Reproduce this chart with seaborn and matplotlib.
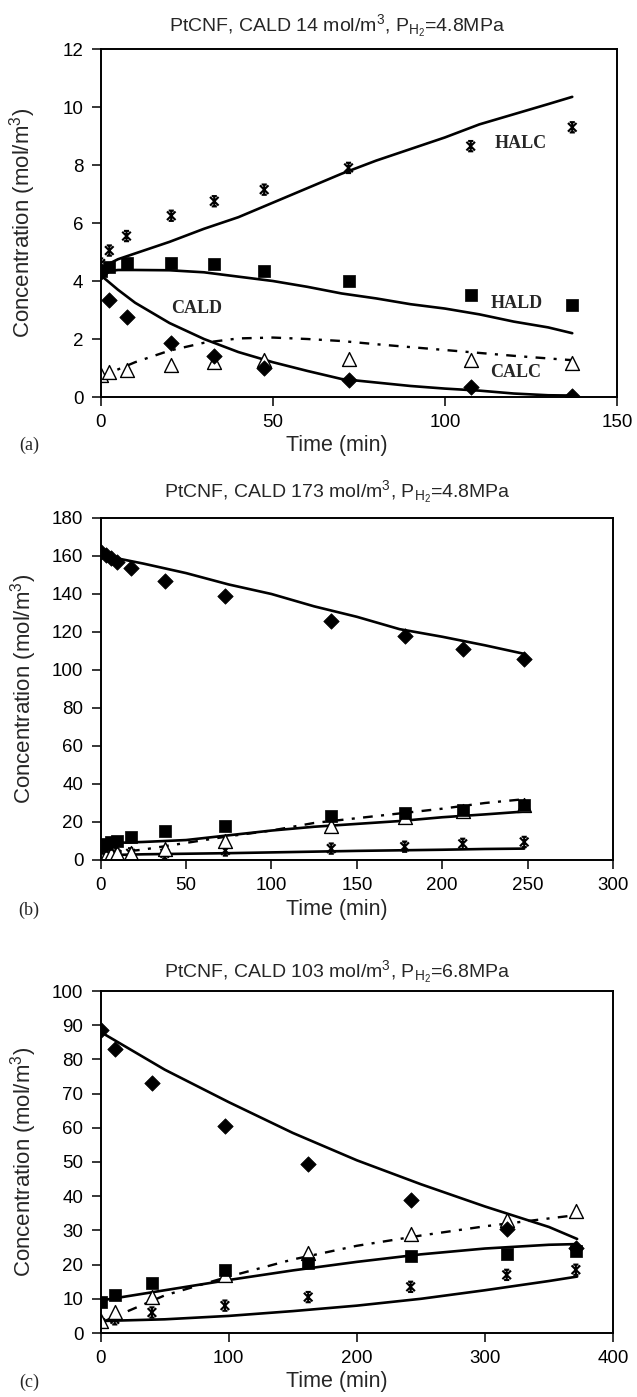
import numpy as np
import pandas as pd
import matplotlib
matplotlib.use("Agg")
import matplotlib.pyplot as plt
from matplotlib.path import Path
import seaborn as sns

# ---------------- data : panel (a) ----------------
t_a = [0, 2.5, 7.5, 20.5, 33, 47.5, 72, 107.5, 137]
cald_a = [4.3, 3.35, 2.75, 1.85, 1.4, 1.0, 0.6, 0.35, 0.05]
hald_a = [4.35, 4.5, 4.62, 4.62, 4.57, 4.34, 3.99, 3.53, 3.18]
calc_a = [0.75, 0.87, 0.92, 1.1, 1.2, 1.27, 1.3, 1.27, 1.18]
halc_a = [4.6, 5.05, 5.55, 6.25, 6.75, 7.15, 7.9, 8.65, 9.3]

tf_a = [0, 5, 10, 20, 30, 40, 50, 60, 70, 80, 90, 100, 110, 120, 130, 137]
cald_fit_a = [4.2, 3.7, 3.25, 2.55, 2.0, 1.55, 1.2, 0.9, 0.62, 0.5, 0.38, 0.29, 0.22, 0.12, 0.06, 0.05]
hald_fit_a = [4.3, 4.38, 4.38, 4.37, 4.3, 4.15, 4.0, 3.8, 3.57, 3.4, 3.2, 3.05, 2.85, 2.6, 2.4, 2.2]
calc_fit_a = [0.7, 0.95, 1.2, 1.6, 1.87, 2.02, 2.05, 2.0, 1.93, 1.82, 1.72, 1.62, 1.52, 1.42, 1.33, 1.27]
halc_fit_a = [4.45, 4.75, 4.95, 5.35, 5.8, 6.2, 6.7, 7.2, 7.7, 8.15, 8.55, 8.95, 9.4, 9.75, 10.1, 10.35]

# ---------------- data : panel (b) ----------------
t_b = [0, 3, 6, 9.5, 17.5, 37.5, 73, 135, 178, 212, 248]
cald_b = [162, 160.5, 159, 157, 153.5, 147, 139, 126, 118, 111, 106]
hald_b = [7.5, 8.5, 9.5, 10, 12, 15.5, 18, 23, 25, 26.5, 29]
calc_b = [1, 2, 3, 3.5, 3.5, 6, 10, 18, 22.5, 26, 29]
halc_b = [0.5, 2, 2.5, 3, 3.5, 3.5, 5, 6, 7, 8.5, 9.5]

tf_b = [0, 25, 50, 75, 100, 125, 150, 175, 200, 225, 248]
cald_fit_b = [160.5, 156, 151, 145, 140, 133.5, 128, 121.5, 117.5, 113, 108.5]
hald_fit_b = [8.7, 9.5, 10.5, 13, 15.5, 17.5, 19, 20.5, 22.5, 24, 25.5]
calc_fit_b = [3, 5.5, 9, 12.5, 15.5, 19.5, 22, 24.5, 27, 30, 32]
halc_fit_b = [2.5, 3, 3.3, 3.6, 4, 4.4, 4.8, 5.1, 5.4, 5.8, 6]

# ---------------- data : panel (c) ----------------
t_c = [0, 11, 40, 97, 162, 242, 317, 371]
cald_c = [88.5, 83, 73, 60.5, 49.5, 39, 30.5, 25]
hald_c = [9, 11, 14.5, 18.5, 20.5, 22.5, 23, 24]
calc_c = [3.5, 6, 10.5, 17, 23.5, 29, 33, 35.8]
halc_c = [3, 4, 6, 8, 10.5, 13.5, 17, 18.5]

tf_c = [0, 50, 100, 150, 200, 250, 300, 350, 372]
cald_fit_c = [88, 77, 67.5, 58.5, 50.5, 43.5, 37, 31, 27.5]
hald_fit_c = [9.5, 12.5, 15.5, 18.3, 20.8, 23, 24.7, 25.8, 26]
calc_fit_c = [3, 11, 16.5, 21.5, 25.5, 28.5, 31.2, 33.5, 34.5]
halc_fit_c = [3.5, 4, 5, 6.4, 8, 10, 12.5, 15.2, 16.5]

titles = [r"PtCNF, CALD 14 mol/m$^3$, P$_{\mathrm{H}_2}$=4.8MPa",
          r"PtCNF, CALD 173 mol/m$^3$, P$_{\mathrm{H}_2}$=4.8MPa",
          r"PtCNF, CALD 103 mol/m$^3$, P$_{\mathrm{H}_2}$=6.8MPa"]
panel_tags = ["(a)", "(b)", "(c)"]
xlabel = "Time (min)"
ylabel = "Concentration (mol/m$^3$)"

# ---------------- style ----------------
sns.set_style("ticks")
plt.rcParams["font.family"] = ["Liberation Sans", "DejaVu Sans"]
plt.rcParams["mathtext.fontset"] = "custom"
plt.rcParams["mathtext.rm"] = "Liberation Sans"
plt.rcParams["mathtext.it"] = "Liberation Sans:italic"
plt.rcParams["mathtext.bf"] = "Liberation Sans:bold"
plt.rcParams["lines.scale_dashes"] = False

W, H = 637, 1397
fig = plt.figure(figsize=(W / 100, H / 100), dpi=100)
fig.patch.set_facecolor("white")


def fx(px):
    return px / W


def fy(py):
    return 1 - py / H


# axes boxes in pixels: left, top, right, bottom
boxes = [(100.7, 49, 617, 397), (100.7, 518, 613, 860), (100.7, 991, 613, 1333)]
axes = []
for (l, t, r, b) in boxes:
    ax = fig.add_axes([fx(l), fy(b), (r - l) / W, (b - t) / H])
    axes.append(ax)

# star (Excel-like asterisk) marker
star_path = Path(
    [(-1, -1), (1, 1), (-1, 1), (1, -1), (0, -1.2), (0, 1.2),
     (-0.6, 1.2), (0.6, 1.2), (-0.6, -1.2), (0.6, -1.2)],
    [Path.MOVETO, Path.LINETO] * 5,
)

DASH = (0, (7, 6, 2.2, 6))
LW = 1.9


def draw(ax, t, obs, tf, fits, xlim, ylim, xticks, yticks):
    cald, hald, calc, halc = obs
    cf, hf, ccf, hcf = fits
    # model curves
    sns.lineplot(x=tf, y=hf, ax=ax, color="black", lw=LW, zorder=2)
    sns.lineplot(x=tf, y=hcf, ax=ax, color="black", lw=LW, zorder=2)
    sns.lineplot(x=tf, y=cf, ax=ax, color="black", lw=LW, zorder=2)
    sns.lineplot(x=tf, y=ccf, ax=ax, color="black", lw=LW * 0.9,
                 linestyle=DASH, zorder=2)
    # experimental points
    sns.scatterplot(x=t, y=halc, ax=ax, marker=star_path, s=55,
                    facecolor="none", edgecolor="black", linewidth=1.5, zorder=3)
    sns.scatterplot(x=t, y=calc, ax=ax, marker="^", s=100,
                    facecolor="white", edgecolor="black", linewidth=1.0, zorder=3)
    sns.scatterplot(x=t, y=hald, ax=ax, marker="s", s=80,
                    color="black", edgecolor="black", linewidth=0.5, zorder=3)
    sns.scatterplot(x=t, y=cald, ax=ax, marker="D", s=62,
                    color="black", edgecolor="black", linewidth=0.5, zorder=3)

    ax.set_xlim(*xlim)
    ax.set_ylim(*ylim)
    ax.set_xticks(xticks)
    ax.set_yticks(yticks)
    ax.set_xlabel("")
    ax.set_ylabel(ylabel, fontsize=16, va="center")
    ax.yaxis.set_label_coords((23 - 100.7) / (boxes[0][2] - boxes[0][0]), 0.5)
    ax.tick_params(direction="out", length=6.5, width=1.1, labelsize=13.5,
                   pad=6, colors="black")
    for sp in ax.spines.values():
        sp.set_visible(True)
        sp.set_linewidth(1.4)
        sp.set_color("black")
        sp.set_zorder(5)
    ax.set_facecolor("white")


draw(axes[0], t_a, (cald_a, hald_a, calc_a, halc_a), tf_a,
     (cald_fit_a, hald_fit_a, calc_fit_a, halc_fit_a),
     (0, 150), (0, 12), [0, 50, 100, 150], np.arange(0, 13, 2))
draw(axes[1], t_b, (cald_b, hald_b, calc_b, halc_b), tf_b,
     (cald_fit_b, hald_fit_b, calc_fit_b, halc_fit_b),
     (0, 300), (0, 180), np.arange(0, 301, 50), np.arange(0, 181, 20))
draw(axes[2], t_c, (cald_c, hald_c, calc_c, halc_c), tf_c,
     (cald_fit_c, hald_fit_c, calc_fit_c, halc_fit_c),
     (0, 400), (0, 100), np.arange(0, 401, 100), np.arange(0, 101, 10))

# species labels in panel (a)
serif = ["Liberation Serif", "DejaVu Serif"]
for name, tx, ty in [("HALC", 122, 8.73), ("HALD", 121, 3.24),
                     ("CALD", 28, 3.06), ("CALC", 120.5, 0.83)]:
    axes[0].text(tx, ty, name, family=serif, fontweight="bold", fontsize=13,
                 ha="center", va="center", zorder=6)

# titles, x labels and panel tags (figure pixel positions)
title_base = [31, 497, 977]
xlab_y = [445, 910, 1382]
for i in range(3):
    fig.text(fx(337), fy(title_base[i]), titles[i], ha="center", va="baseline",
             fontsize=14)
    fig.text(fx(337), fy(xlab_y[i]), xlabel, ha="center", va="center",
             fontsize=15.5)
    fig.text(fx(29), fy(xlab_y[i]), panel_tags[i], ha="center", va="center",
             fontsize=13, family=serif)

fig.savefig("out.png", dpi=100, facecolor="white")
